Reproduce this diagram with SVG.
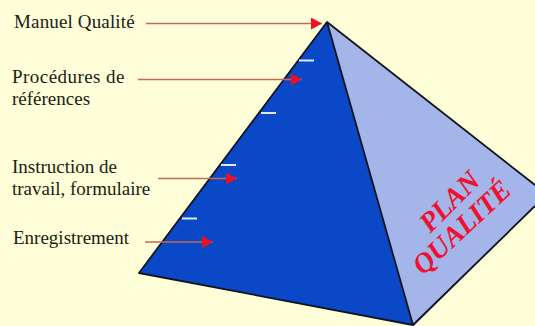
<svg xmlns="http://www.w3.org/2000/svg" width="535" height="326" viewBox="0 0 535 326">
<style>
.l{font-family:"Liberation Serif","Times New Roman",serif;font-size:19px;fill:#1c1c14}
.p{font-family:"Liberation Serif","Times New Roman",serif;font-size:28px;font-style:italic;font-weight:bold;fill:#ee1130;text-anchor:middle}
.c{fill:none;stroke:#c9694f;stroke-width:1.6}
.t{stroke:#dfe8f2;stroke-width:2}
.e{fill:none;stroke:#10141c;stroke-width:1.8;stroke-linejoin:round}
</style>
<defs><marker id="a" markerUnits="userSpaceOnUse" markerWidth="12" markerHeight="12" refX="11" refY="6" orient="auto"><path d="M0 0L11 6L0 12Z" fill="#ee0f22"/></marker></defs>
<rect width="535" height="326" fill="#fefed8"/>
<g id="pyramid">
<path d="M327 22L535 185V206L414 326L413 326Z" fill="#a4b5ea"/>
<path d="M327 22L413 325L139 273Z" fill="#0b48c8"/>
<path class="e" d="M535 185L327 22L139 273L413 325L535 206M327 22L413 325"/>
<path class="t" d="M299 60.500H314M261 113H276M221 165H236M182 218.500H197"/>
<text class="p" transform="translate(456 208) rotate(-45)">PLAN</text>
<text class="p" transform="translate(468 234) rotate(-43)">QUALITÉ</text>
</g>
<g id="n1"><text class="l" x="14" y="28" letter-spacing=".15">Manuel Qualité</text></g>
<g id="n2"><text class="l" x="12" y="83" letter-spacing=".45">Procédures de</text><text class="l" x="12" y="105">références</text></g>
<g id="n3"><text class="l" x="12" y="173">Instruction de</text><text class="l" x="12" y="195">travail, formulaire</text></g>
<g id="n4"><text class="l" x="13" y="244">Enregistrement</text></g>
<g id="connectors">
<path class="c" marker-end="url(#a)" d="M146 23.500H322"/>
<path class="c" marker-end="url(#a)" d="M138 79.500H302"/>
<path class="c" marker-end="url(#a)" d="M158 178.500H237"/>
<path class="c" marker-end="url(#a)" d="M145 242H213"/>
</g>
</svg>
